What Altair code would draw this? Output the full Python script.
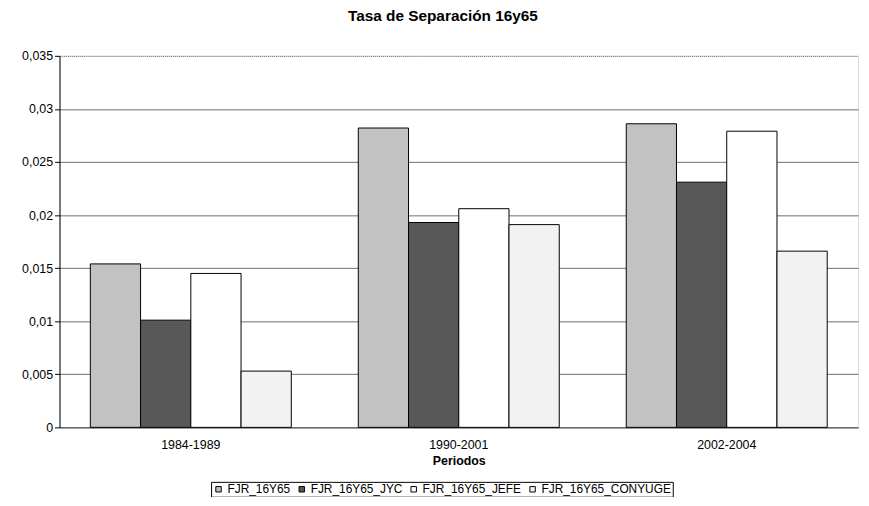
import altair as alt
import pandas as pd

periods = ["1984-1989", "1990-2001", "2002-2004"]
series = ["FJR_16Y65", "FJR_16Y65_JYC", "FJR_16Y65_JEFE", "FJR_16Y65_CONYUGE"]
v_16y65 = [0.0154, 0.0282, 0.0286]
v_jyc = [0.0101, 0.0193, 0.0231]
v_jefe = [0.0145, 0.0206, 0.0279]
v_conyuge = [0.0053, 0.0191, 0.0166]
y_ticks = [0, 0.005, 0.01, 0.015, 0.02, 0.025, 0.03, 0.035]
colors = ["#c2c2c2", "#585858", "#ffffff", "#f2f2f2"]

rows = []
for s, vals in zip(series, [v_16y65, v_jyc, v_jefe, v_conyuge]):
    for p, v in zip(periods, vals):
        rows.append({"Periodo": p, "Serie": s, "Valor": v})
df = pd.DataFrame(rows)

FONT = "Liberation Sans"

chart = alt.Chart(df).mark_bar(stroke="black", strokeWidth=1).encode(
    x=alt.X("Periodo:N", sort=periods,
            scale=alt.Scale(paddingInner=0.25, paddingOuter=0.115),
            axis=alt.Axis(title="Periodos", labelAngle=0, tickSize=0,
                          labelPadding=11, titlePadding=4,
                          labelFontSize=12.5, titleFontSize=12.5,
                          labelFont=FONT, titleFont=FONT, titleFontWeight="bold",
                          labelColor="black", titleColor="black",
                          domainColor="#555555", grid=False)),
    xOffset=alt.XOffset("Serie:N", sort=series, scale=alt.Scale(paddingInner=0, paddingOuter=0)),
    y=alt.Y("Valor:Q", scale=alt.Scale(domain=[0, 0.035], nice=False),
            axis=alt.Axis(title=None, values=y_ticks,
                          labelExpr="replace(format(datum.value, '.3~f'), '.', ',')",
                          labelFontSize=12.5, labelFont=FONT, labelColor="black",
                          labelPadding=2, tickSize=5, tickColor="black",
                          domainColor="black", grid=True, gridColor="#6e6e6e",
                          gridDash={"condition": {"test": "datum.value >= 0.035", "value": [1, 1]}, "value": []})),
    color=alt.Color("Serie:N", sort=series,
                    scale=alt.Scale(domain=series, range=colors),
                    legend=alt.Legend(title=None, orient="none", direction="horizontal",
                                      legendX=153, legendY=430,
                                      strokeColor="black", padding=1.5,
                                      symbolType="square", symbolSize=30,
                                      symbolStrokeColor="black", symbolStrokeWidth=1,
                                      labelFontSize=12, labelFont=FONT, labelColor="black",
                                      columnPadding=5, labelOffset=3)),
).properties(
    width=806, height=375,
    title=alt.TitleParams("Tasa de Separación 16y65", fontSize=15.5, font=FONT,
                          fontWeight="bold", color="black", anchor="middle",
                          offset=26, dx=-16),
    autosize=alt.AutoSizeParams(type="none"),
    padding={"left": 52, "top": 46, "right": 3, "bottom": 68},
).configure_view(stroke=None).configure(background="white")

chart.save("out.html", embed_options={"renderer": "svg", "actions": False})
